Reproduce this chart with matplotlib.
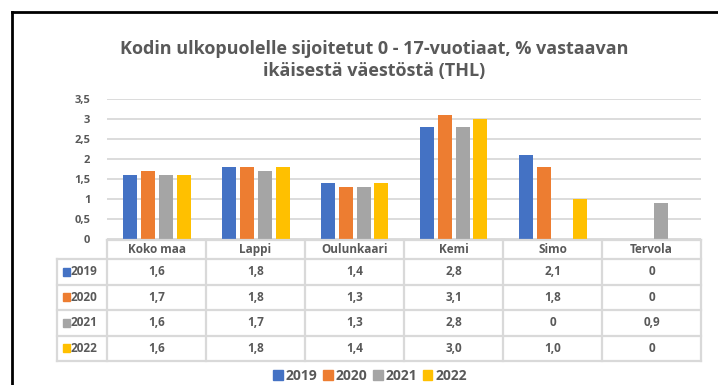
import matplotlib.pyplot as plt
from matplotlib.lines import Line2D
from matplotlib.patches import Rectangle

# data
categories = ["Koko maa", "Lappi", "Oulunkaari", "Kemi", "Simo", "Tervola"]
years = ["2019", "2020", "2021", "2022"]
v2019 = [1.6, 1.8, 1.4, 2.8, 2.1, 0]
v2020 = [1.7, 1.8, 1.3, 3.1, 1.8, 0]
v2021 = [1.6, 1.7, 1.3, 2.8, 0, 0.9]
v2022 = [1.6, 1.8, 1.4, 3.0, 1.0, 0]
cell_text = [
    ["1,6", "1,8", "1,4", "2,8", "2,1", "0"],
    ["1,7", "1,8", "1,3", "3,1", "1,8", "0"],
    ["1,6", "1,7", "1,3", "2,8", "0", "0,9"],
    ["1,6", "1,8", "1,4", "3,0", "1,0", "0"],
]
yticks = [0, 0.5, 1, 1.5, 2, 2.5, 3, 3.5]
ytick_labels = ["0", "0,5", "1", "1,5", "2", "2,5", "3", "3,5"]
title = "Kodin ulkopuolelle sijoitetut 0 - 17-vuotiaat, % vastaavan\nikäisestä väestöstä (THL)"

series = [v2019, v2020, v2021, v2022]
colors = ["#4472C4", "#ED7D31", "#A5A5A5", "#FFC000"]
txt = "#595959"
grid = "#D9D9D9"

plt.rcParams["font.family"] = ["Open Sans", "DejaVu Sans"]
plt.rcParams["font.weight"] = "bold"

W, H = 718, 385
fig = plt.figure(figsize=(W / 100, H / 100), dpi=100)

def fx(px):
    return px / W

def fy(py):
    return 1 - py / H

# outer frame (left and top edges only)
fig.add_artist(Line2D([fx(12), fx(12)], [fy(12), 0], color="black", lw=2))
fig.add_artist(Line2D([fx(12), 1], [fy(12), fy(12)], color="black", lw=2))

fig.text(fx(374), fy(60), title, ha="center", va="center", fontsize=13,
         color=txt, fontweight="bold", linespacing=1.3)

# bar area
left, right = 107, 701
ax = fig.add_axes([fx(left), fy(239), fx(right - left), (239 - 99) / H])
n = len(categories)
pitch = 18 / 99
bw = 14 / 99
for i, (vals, c) in enumerate(zip(series, colors)):
    xs = [k + (i - 1.5) * pitch for k in range(n)]
    ax.bar(xs, vals, width=bw, color=c, zorder=3)
ax.set_xlim(-0.5, n - 0.5)
ax.set_ylim(0, 3.5)
ax.set_yticks(yticks)
ax.set_yticklabels(ytick_labels, fontsize=8, color=txt, fontweight="bold")
ax.set_xticks([])
ax.tick_params(axis="y", length=0, pad=12)
ax.grid(axis="y", color=grid, lw=1.3, zorder=0)
for s in ax.spines.values():
    s.set_visible(False)

# data table below the bars
rows = [240, 259, 284.5, 310, 335.5, 361]
tab = fig.add_axes([fx(left), fy(361), fx(right - left), (361 - 240) / H])
tab.set_xlim(-0.5, n - 0.5)
tab.set_ylim(rows[-1], rows[0])
tab.axis("off")
lbl_left = -0.5 - 50 / 99
lc = dict(color=grid, lw=1.6, clip_on=False, solid_capstyle="projecting")
tab.plot([-0.5, n - 0.5], [rows[0], rows[0]], **lc)
for r in rows[1:]:
    tab.plot([lbl_left, n - 0.5], [r, r], **lc)
tab.plot([lbl_left, lbl_left], [rows[1], rows[-1]], **lc)
for k in range(n + 1):
    tab.plot([k - 0.5, k - 0.5], [rows[0], rows[-1]], **lc)
fs = 8.5
for k, cat in enumerate(categories):
    tab.text(k, (rows[0] + rows[1]) / 2, cat, ha="center", va="center",
             fontsize=fs, color=txt, fontweight="bold", clip_on=False)
for j, (yr, c) in enumerate(zip(years, colors)):
    yc = (rows[j + 1] + rows[j + 2]) / 2
    tab.add_patch(Rectangle((lbl_left + 6 / 99, yc - 4), 7 / 99, 8,
                            color=c, clip_on=False))
    tab.text(lbl_left + 14 / 99, yc, yr, ha="left", va="center", fontsize=fs,
             color=txt, fontweight="bold", clip_on=False)
    for k in range(n):
        tab.text(k, yc, cell_text[j][k], ha="center", va="center", fontsize=fs,
                 color=txt, fontweight="bold", clip_on=False)

# legend
handles = [Rectangle((0, 0), 1, 1, color=c) for c in colors]
fig.legend(handles, years, loc="center", bbox_to_anchor=(fx(370), fy(376)),
           ncol=4, frameon=False, handlelength=0.7,
           handleheight=0.7, handletextpad=0.2, columnspacing=0.4,
           labelcolor=txt, prop={"weight": "bold", "size": 10})

fig.savefig("out.png", dpi=100)
